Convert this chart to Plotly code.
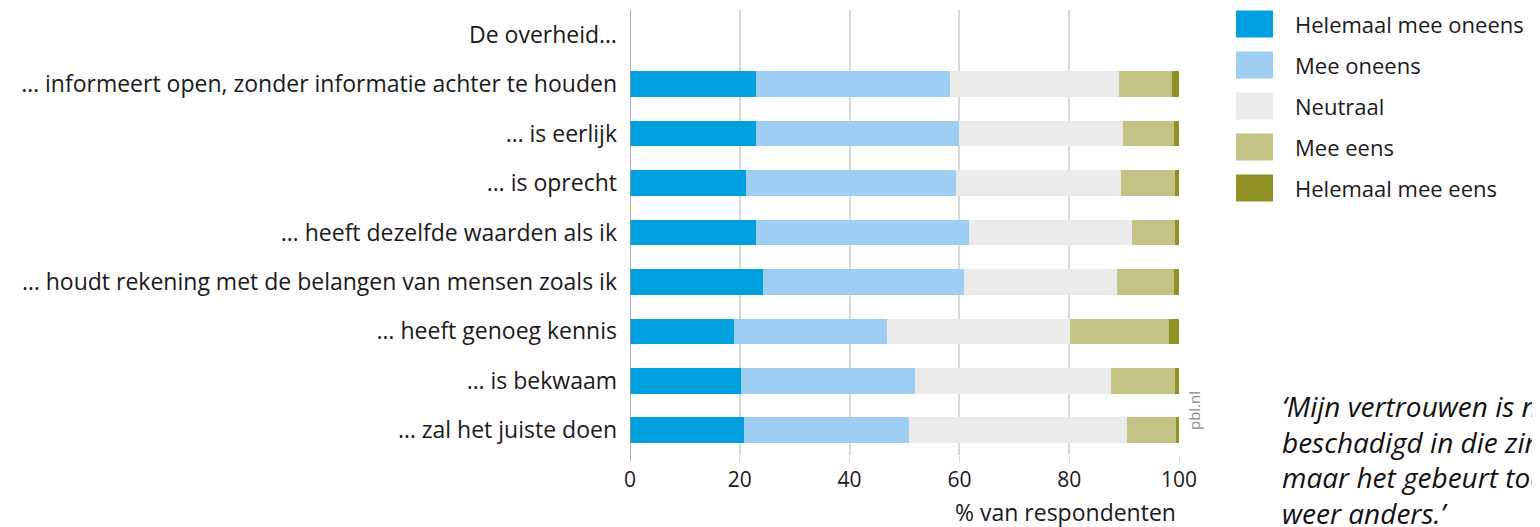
import plotly.graph_objects as go

categories = [
    "De overheid…",
    "… informeert open, zonder informatie achter te houden",
    "… is eerlijk",
    "… is oprecht",
    "… heeft dezelfde waarden als ik",
    "… houdt rekening met de belangen van mensen zoals ik",
    "… heeft genoeg kennis",
    "… is bekwaam",
    "… zal het juiste doen",
]
series_names = ["Helemaal mee oneens", "Mee oneens", "Neutraal", "Mee eens", "Helemaal mee eens"]
helemaal_oneens = [None, 23.0, 23.0, 21.2, 23.0, 24.2, 19.0, 20.2, 20.8]
mee_oneens = [None, 35.3, 36.9, 38.2, 38.8, 36.6, 27.9, 31.7, 30.1]
neutraal = [None, 30.7, 29.9, 30.0, 29.6, 27.9, 33.2, 35.8, 39.7]
mee_eens = [None, 9.7, 9.3, 9.9, 7.8, 10.4, 18.1, 11.6, 8.9]
helemaal_eens = [None, 1.3, 0.9, 0.7, 0.8, 0.9, 1.8, 0.7, 0.5]
series_values = [helemaal_oneens, mee_oneens, neutraal, mee_eens, helemaal_eens]
colors = ["#009fe0", "#9ecef2", "#ebebeb", "#c3c386", "#8f9124"]
x_ticks = [0, 20, 40, 60, 80, 100]
x_title = "% van respondenten"
quote_lines = ["‘Mijn vertrouwen is niet", "beschadigd in die zin,", "maar het gebeurt toch", "weer anders.’"]
source = "pbl.nl"

OFF = 8  # page body margin
W, H = 1540 - OFF, 527 - OFF
L, R, T, B = 630, 1179, 10, 455  # page pixel positions of the plot area
FONT = "Open Sans"


def px(xp):
    return (xp - L) / (R - L)


def py(yp):
    return (B - yp) / (B - T)


fig = go.Figure()
for name, vals, col in zip(series_names, series_values, colors):
    fig.add_trace(go.Bar(
        y=categories, x=vals, name=name, orientation="h",
        marker=dict(color=col, line=dict(width=0)),
        showlegend=False,
    ))

shapes = []
annotations = []
# custom legend
leg_y = [24, 65, 106, 147, 188]
for name, col, yc in zip(series_names, colors, leg_y):
    shapes.append(dict(type="rect", xref="paper", yref="paper",
                       x0=px(1236), x1=px(1273), y0=py(yc + 13.5), y1=py(yc - 13.5),
                       fillcolor=col, line=dict(width=0)))
    annotations.append(dict(xref="paper", yref="paper", x=px(1293), y=py(yc),
                            xanchor="left", yanchor="middle", text=name, showarrow=False,
                            font=dict(family=FONT, size=22, color="#1a1a1a")))

annotations.append(dict(xref="paper", yref="paper", x=px(1178), y=py(512),
                        xanchor="right", yanchor="middle", text=x_title, showarrow=False,
                        font=dict(family=FONT, size=23, color="#1a1a1a")))
annotations.append(dict(xref="paper", yref="paper", x=px(1194), y=py(411),
                        xanchor="center", yanchor="middle", text=source, showarrow=False,
                        textangle=-90, font=dict(family=FONT, size=15, color="#8c8c8c")))
for i, line in enumerate(quote_lines):
    annotations.append(dict(xref="paper", yref="paper", x=px(1280), y=py(406 + i * 35.7),
                            xanchor="left", yanchor="middle", text="<i>" + line + "</i>",
                            showarrow=False,
                            font=dict(family=FONT, size=28, color="#111111")))

fig.update_layout(
    barmode="stack",
    bargap=0.48,
    width=W, height=H,
    margin=dict(l=L - OFF, r=W - (R - OFF), t=T - OFF, b=H - (B - OFF), pad=0),
    plot_bgcolor="white", paper_bgcolor="white",
    font=dict(family=FONT, size=23, color="#1a1a1a"),
    xaxis=dict(range=[0, 100], tickvals=x_ticks, ticktext=[str(v) for v in x_ticks],
               showgrid=True, gridcolor="#d9d9d9", gridwidth=1.5, zeroline=False,
               showline=False, ticks="outside", ticklen=6, tickcolor="#d9d9d9",
               tickfont=dict(family=FONT, size=21, color="#1a1a1a")),
    yaxis=dict(categoryorder="array", categoryarray=categories, autorange="reversed",
               showgrid=False, showline=False, ticks="", ticklabelstandoff=12,
               tickfont=dict(family=FONT, size=23, color="#1a1a1a")),
    shapes=shapes + [dict(type="line", xref="x", yref="paper", x0=0, x1=0, y0=py(461), y1=1,
                          line=dict(color="#999999", width=1.5), layer="above")],
    annotations=annotations,
)

fig.write_html("out.html")
